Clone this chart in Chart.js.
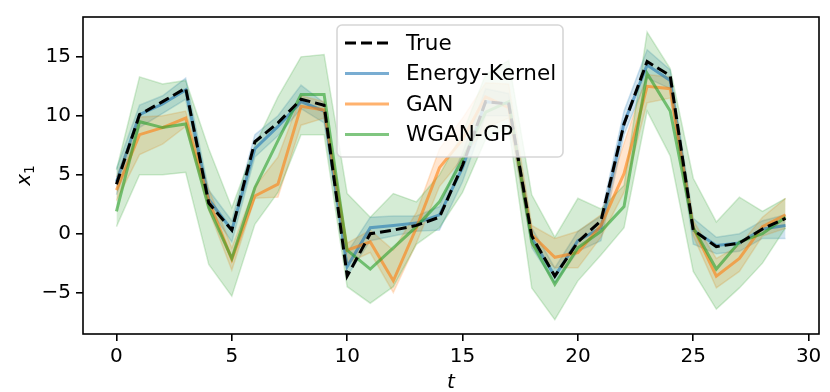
<!DOCTYPE html>
<html>
<head>
<meta charset="utf-8">
<script src="https://cdn.jsdelivr.net/npm/chart.js@4"></script>
<style>
  html, body { margin: 0; padding: 0; background: #fff; }
</style>
</head>
<body>
<canvas id="chart" width="830" height="392"></canvas>
<script>
const steps = [0, 1, 2, 3, 4, 5, 6, 7, 8, 9, 10, 11, 12, 13, 14, 15, 16, 17, 18, 19, 20, 21, 22, 23, 24, 25, 26, 27, 28, 29];

const trueVals = [4.2, 10.1, 11.2, 12.35, 2.6, 0.3, 7.8, 9.4, 11.4, 10.9, -3.6, 0.0, 0.3, 0.7, 1.4, 5.8, 11.2, 11.0, -0.2, -3.6, -0.7, 1.1, 9.3, 14.6, 13.4, 0.3, -1.1, -0.8, 0.4, 1.3];

const energyMean = [4.4, 10.1, 11.0, 12.2, 2.9, 0.3, 7.2, 9.1, 11.2, 10.4, -2.8, 0.5, 0.7, 0.9, 1.6, 5.6, 11.2, 11.0, -0.4, -3.6, -0.6, 0.5, 9.4, 14.3, 13.0, 0.3, -1.0, -0.8, 0.4, 0.7];
const energyLo = [3.3, 9.0, 10.2, 11.4, 2.2, -0.7, 6.5, 8.3, 10.6, 9.4, -3.6, -0.6, -0.2, 0.2, 0.3, 4.4, 10.0, 10.0, -1.2, -4.2, -1.5, -0.6, 8.4, 13.2, 12.3, -0.9, -1.7, -1.5, -0.4, -0.4];
const energyHi = [5.5, 10.9, 11.7, 13.2, 3.7, 1.1, 8.4, 10.0, 12.6, 11.1, -1.6, 1.4, 1.5, 1.5, 2.3, 6.9, 12.3, 11.9, 0.5, -2.9, 0.2, 1.5, 10.4, 15.6, 13.9, 1.3, -0.3, 0.0, 1.1, 1.6];

const ganMean = [3.7, 8.4, 9.0, 9.8, 2.8, -2.2, 3.2, 4.2, 10.8, 10.5, -1.4, -0.7, -4.0, 0.5, 5.6, 8.0, 11.6, 10.7, -0.1, -2.0, -1.6, 0.7, 5.1, 12.5, 12.3, 0.5, -3.6, -2.1, 0.6, 1.6];
const ganLo = [2.8, 6.7, 7.6, 9.1, 2.0, -3.1, 3.0, 3.1, 9.2, 9.8, -2.5, -1.6, -5.0, -0.8, 4.0, 6.4, 9.0, 9.8, -1.0, -2.9, -2.9, -0.3, 3.5, 11.1, 11.5, -0.2, -4.6, -3.2, -0.2, 0.45];
const ganHi = [4.8, 9.9, 10.0, 10.4, 3.8, -1.2, 4.0, 6.5, 11.7, 11.2, -0.8, 0.3, -1.4, 1.8, 7.2, 9.8, 12.8, 12.7, 0.7, -0.4, 0.2, 1.6, 7.7, 13.5, 13.3, 1.1, -2.1, -1.0, 1.4, 3.0];

const wganMean = [1.9, 9.5, 9.0, 9.3, 2.2, -2.1, 3.9, 7.9, 11.8, 11.8, -1.4, -3.0, -1.2, 0.6, 2.7, 6.3, 10.3, 11.2, -0.7, -4.3, -1.2, 0.2, 2.3, 13.6, 10.4, 0.5, -3.0, -0.7, 0.0, 1.4];
const wganLo = [0.6, 5.0, 5.0, 5.2, -2.6, -5.3, 0.8, 3.5, 8.4, 8.4, -4.5, -5.9, -4.5, -0.9, 0.5, 3.5, 8.0, 9.0, -4.6, -7.3, -4.0, -1.8, 0.5, 10.4, 6.6, -3.2, -6.4, -4.6, -2.5, 0.5];
const wganHi = [5.4, 13.3, 12.7, 13.0, 7.2, 2.2, 7.5, 11.6, 15.0, 15.2, 3.4, 1.4, 3.4, 2.7, 5.0, 8.5, 13.5, 14.7, 3.3, -0.3, 3.0, 2.1, 4.1, 17.1, 14.0, 4.7, 1.0, 3.1, 1.9, 3.0];

const xTicks = [0, 5, 10, 15, 20, 25, 30];
const yTicks = [-5, 0, 5, 10, 15];

const BLUE = "31,119,180";
const ORANGE = "255,127,14";
const GREEN = "44,160,44";

function pts(vals) {
  return steps.map((t, i) => ({ x: t, y: vals[i] }));
}

function band(name, lo, hi, rgb, order) {
  const common = {
    borderColor: `rgba(${rgb},0.2)`,
    backgroundColor: `rgba(${rgb},0.2)`,
    borderWidth: 1.5,
    pointRadius: 0,
    tension: 0,
    order: order,
  };
  return [
    Object.assign({ label: name + " hi", data: pts(hi), fill: "+1" }, common),
    Object.assign({ label: name + " lo", data: pts(lo), fill: false }, common),
  ];
}

function meanLine(name, vals, rgb, order) {
  return {
    label: name,
    data: pts(vals),
    borderColor: `rgba(${rgb},0.6)`,
    borderWidth: 3,
    pointRadius: 0,
    tension: 0,
    fill: false,
    order: order,
  };
}

const legendItems = [
  { text: "True", color: "#000", dash: [11, 5] },
  { text: "Energy-Kernel", color: `rgba(${BLUE},0.6)`, dash: [] },
  { text: "GAN", color: `rgba(${ORANGE},0.6)`, dash: [] },
  { text: "WGAN-GP", color: `rgba(${GREEN},0.6)`, dash: [] },
];

// legend box + axis titles, matplotlib style
const extras = {
  id: "extras",
  afterDraw(chart) {
    const ctx = chart.ctx;
    const a = chart.chartArea;
    ctx.save();
    // frame
    ctx.strokeStyle = "#000";
    ctx.lineWidth = 1.6;
    ctx.strokeRect(a.left, a.top, a.right - a.left, a.bottom - a.top);

    // legend
    const bx = 337, by = 25, bw = 226, bh = 132, r = 5;
    ctx.beginPath();
    ctx.moveTo(bx + r, by);
    ctx.arcTo(bx + bw, by, bx + bw, by + bh, r);
    ctx.arcTo(bx + bw, by + bh, bx, by + bh, r);
    ctx.arcTo(bx, by + bh, bx, by, r);
    ctx.arcTo(bx, by, bx + bw, by, r);
    ctx.closePath();
    ctx.fillStyle = "rgba(255,255,255,0.8)";
    ctx.fill();
    ctx.strokeStyle = "rgba(204,204,204,0.8)";
    ctx.lineWidth = 1.6;
    ctx.stroke();

    ctx.font = "21.5px 'DejaVu Sans'";
    ctx.textBaseline = "middle";
    ctx.textAlign = "left";
    legendItems.forEach((item, i) => {
      const y = 43 + i * 30.5;
      ctx.beginPath();
      ctx.setLineDash(item.dash);
      ctx.strokeStyle = item.color;
      ctx.lineWidth = 3;
      ctx.moveTo(345, y);
      ctx.lineTo(389, y);
      ctx.stroke();
      ctx.setLineDash([]);
      ctx.fillStyle = "#000";
      ctx.fillText(item.text, 406, y + 1);
    });

    // x label
    ctx.fillStyle = "#000";
    ctx.font = "italic 20px 'DejaVu Sans'";
    ctx.textAlign = "center";
    ctx.textBaseline = "alphabetic";
    ctx.fillText("t", (a.left + a.right) / 2, 388);

    // y label
    ctx.translate(30, (a.top + a.bottom) / 2);
    ctx.rotate(-Math.PI / 2);
    ctx.textAlign = "left";
    ctx.font = "italic 20px 'DejaVu Sans'";
    const wx = ctx.measureText("x").width;
    ctx.font = "14px 'DejaVu Sans'";
    const w1 = ctx.measureText("1").width;
    const x0 = -(wx + w1) / 2;
    ctx.font = "italic 20px 'DejaVu Sans'";
    ctx.fillText("x", x0, 0);
    ctx.font = "14px 'DejaVu Sans'";
    ctx.fillText("1", x0 + wx, 4);
    ctx.restore();
  },
};

const datasets = [
  {
    label: "True",
    data: pts(trueVals),
    borderColor: "#000",
    borderWidth: 3,
    borderDash: [11, 5],
    pointRadius: 0,
    tension: 0,
    fill: false,
    order: 0,
  },
  meanLine("Energy-Kernel", energyMean, BLUE, 3),
  meanLine("GAN", ganMean, ORANGE, 2),
  meanLine("WGAN-GP", wganMean, GREEN, 1),
  ...band("Energy-Kernel", energyLo, energyHi, BLUE, 6),
  ...band("GAN", ganLo, ganHi, ORANGE, 5),
  ...band("WGAN-GP", wganLo, wganHi, GREEN, 4),
];

Chart.defaults.font.family = "'DejaVu Sans'";
Chart.defaults.font.size = 20;
Chart.defaults.color = "#000";

new Chart(document.getElementById("chart"), {
  type: "line",
  data: { datasets: datasets },
  options: {
    responsive: false,
    animation: false,
    layout: { padding: { left: 0, right: 11, top: 14, bottom: 0 } },
    plugins: {
      legend: { display: false },
      tooltip: { enabled: false },
    },
    scales: {
      x: {
        type: "linear",
        min: -1.45,
        max: 30.45,
        afterBuildTicks: (scale) => { scale.ticks = xTicks.map((v) => ({ value: v })); },
        afterFit: (scale) => { scale.height = 58; },
        grid: { display: true, drawOnChartArea: false, drawTicks: true, tickLength: 7, color: "#000", lineWidth: 1.6 },
        border: { display: false },
        ticks: { padding: 4, maxRotation: 0, font: { size: 20 }, color: "#000" },
      },
      y: {
        type: "linear",
        min: -8.51,
        max: 18.38,
        afterBuildTicks: (scale) => { scale.ticks = yTicks.map((v) => ({ value: v })); },
        afterFit: (scale) => { scale.width = 83; },
        grid: { display: true, drawOnChartArea: false, drawTicks: true, tickLength: 7, color: "#000", lineWidth: 1.6 },
        border: { display: false },
        ticks: {
          padding: 5,
          font: { size: 20 },
          color: "#000",
          callback: (v) => (v < 0 ? "\u2212" + Math.abs(v) : String(v)),
        },
      },
    },
  },
  plugins: [extras],
});
</script>
</body>
</html>
